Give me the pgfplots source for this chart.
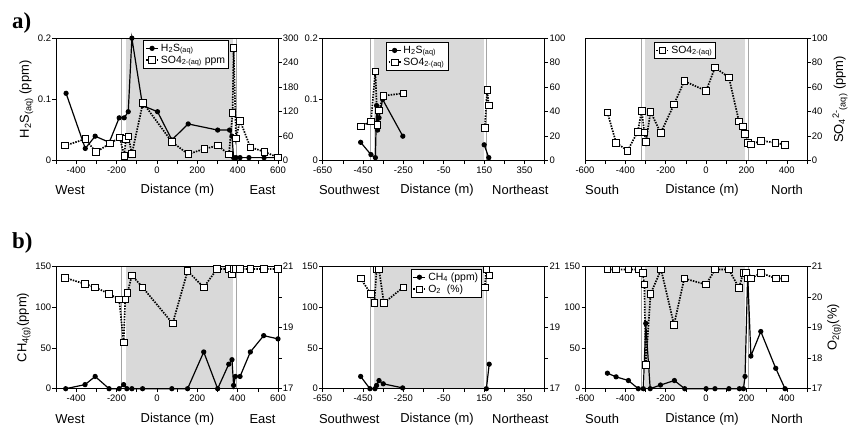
\documentclass[border=0pt]{standalone}
\usepackage{pgfplots}
\pgfplotsset{compat=1.18}
\usepackage{fontspec}
\setmainfont{Liberation Sans}
\newfontfamily\serifb{Liberation Serif}
\definecolor{shade}{RGB}{217,217,217}
\definecolor{vline}{RGB}{165,165,165}
\pgfplotsset{
  base/.style={scale only axis, width=222bp, height=122.5bp, ymin=0,
    anchor=south west, clip=false,
    tick align=outside, major tick length=3.5bp,
    tick style={black, line width=0.6pt},
    axis line style={line width=0.7pt},
    ticklabel style={font=\fontsize{9.5}{11}\selectfont},
    yticklabel style={inner sep=1.2bp},
    xticklabel style={inner sep=2bp},
    label style={font=\fontsize{13}{15}\selectfont},
    legend style={draw=black, line width=0.6pt, font=\fontsize{10.5}{12}\selectfont,
      inner sep=1.5pt, row sep=-1pt, legend cell align=left, anchor=north west},
    legend image code/.code={\draw[mark repeat=2,mark phase=2,##1] plot coordinates {(0bp,0bp) (6bp,0bp) (12bp,0bp)};},
  },
  lefta/.style={base, axis on top, xtick pos=bottom, ytick pos=left},
  righta/.style={base, axis x line=none, axis y line*=right, ylabel near ticks,
    ylabel style={font=\fontsize{13}{15}\selectfont}},
  h2s/.style={black, line width=1.2pt, mark=*, mark size=2pt, mark options={solid}},
  so4/.style={black, line width=1.7pt, dash pattern=on 1.5pt off 1.2pt, mark=square*, mark size=3.3pt, mark options={solid, fill=white, line width=0.8pt}},
  vl/.style={vline, line width=0.9pt, forget plot},
  sh/.style={draw=none, fill=shade, forget plot},
}
\newcommand{\xa}{xmin=-500, xmax=600, xtick={-500,-400,...,600}, xticklabels={,-400,,-200,,0,,200,,400,,600}}
\newcommand{\xb}{xmin=-650, xmax=450, xtick={-650,-550,...,450}, xticklabels={-650,,-450,,-250,,-50,,150,,350,}}
\newcommand{\xc}{xmin=-600, xmax=500, xtick={-600,-500,...,500}, xticklabels={-600,,-400,,-200,,0,,200,,400,}}
\begin{document}
\begin{tikzpicture}
\useasboundingbox (0bp,0bp) rectangle (848bp,427bp);
\node[anchor=base west, font=\serifb\bfseries\fontsize{23}{25}\selectfont, inner sep=0] at (12bp,398bp) {a)};
\node[anchor=base west, font=\serifb\bfseries\fontsize{23}{25}\selectfont, inner sep=0] at (12bp,178bp) {b)};

% ---------- a1 ----------
\begin{axis}[lefta, at={(56bp,266.3bp)}, \xa, ymax=0.2,
  ytick={0,0.1,0.2}, yticklabels={0,0.1,0.2},
  ylabel={H\textsubscript{2}S\textsubscript{(aq)} (ppm)}]
\addplot[sh] coordinates {(-155,0.2) (378,0.2)} \closedcycle;
\addplot[vl] coordinates {(-175,0) (-175,0.2)};
\addplot[vl] coordinates {(395,0) (395,0.2)};
\addplot[h2s] coordinates {(-450,0.11) (-355,0.02) (-306,0.04) (-236,0.03) (-187,0.07) (-162,0.07) (-142,0.08) (-124,0.2) (-71,0.09) (3,0.08) (74,0.034) (155,0.06) (301,0.05) (360,0.05) (372,0.04) (380,0.005) (392,0.005) (412,0.005) (456,0.005) (531,0.005) (600,0.005)};
\node[font=\fontsize{13}{15}\selectfont] at (rel axis cs:0.063,-0.24) {West};
\node[font=\fontsize{13}{15}\selectfont] at (rel axis cs:0.547,-0.24) {Distance (m)};
\node[font=\fontsize{13}{15}\selectfont] at (rel axis cs:0.93,-0.24) {East};
\end{axis}
\begin{axis}[righta, at={(56bp,266.3bp)}, \xa, ymax=300,
  ytick={0,60,...,300}, yticklabels={0,60,120,180,240,300},
  legend style={at={(0.394,0.984)}}]
\addlegendimage{h2s}\addlegendentry{H\textsubscript{2}S\textsubscript{(aq)}}
\addplot[so4] coordinates {(-455,37) (-355,53) (-302,21) (-233,42) (-184,57) (-162,12) (-154,53) (-142,60) (-124,17) (-69,142) (74,46) (155,16) (235,29) (303,37) (357,15) (375,117) (380,276) (392,55) (412,98) (463,33) (532,22) (600,8)};
\addlegendentry{SO4\textsubscript{2-(aq)} ppm}
\end{axis}

% ---------- a2 ----------
\begin{axis}[lefta, at={(322.7bp,266.3bp)}, \xb, ymax=0.2,
  ytick={0,0.1,0.2}, yticklabels={0,0.1,0.2}]
\addplot[sh] coordinates {(-394,0.2) (148,0.2)} \closedcycle;
\addplot[vl] coordinates {(-414,0) (-414,0.2)};
\addplot[vl] coordinates {(161,0) (161,0.2)};
\addplot[h2s] coordinates {(-462,0.03) (-411,0.01) (-389,0.005) (-383,0.09) (-378,0.05) (-371,0.07) (-353,0.1) (-253,0.04)};
\addplot[h2s] coordinates {(150,0.026) (173,0.005)};
\node[font=\fontsize{13}{15}\selectfont] at (rel axis cs:0.12,-0.24) {Southwest};
\node[font=\fontsize{13}{15}\selectfont] at (rel axis cs:0.515,-0.24) {Distance (m)};
\node[font=\fontsize{13}{15}\selectfont] at (rel axis cs:0.89,-0.24) {Northeast};
\end{axis}
\begin{axis}[righta, at={(322.7bp,266.3bp)}, \xb, ymax=100,
  ytick={0,20,...,100}, yticklabels={0,20,40,60,80,100},
  legend style={at={(0.285,0.967)}}]
\addlegendimage{h2s}\addlegendentry{H\textsubscript{2}S\textsubscript{(aq)}}
\addplot[so4] coordinates {(-462,28) (-411,32) (-389,73) (-379,29) (-371,41) (-350,53) (-251,55)};
\addlegendentry{SO4\textsubscript{2-(aq)}}
\addplot[so4, forget plot] coordinates {(153,27) (165,58) (173,45)};
\end{axis}

% ---------- a3 ----------
\begin{axis}[lefta, at={(585bp,266.3bp)}, \xc, ymax=1, ytick=\empty]
\addplot[sh] coordinates {(-303,1) (193,1)} \closedcycle;
\addplot[vl] coordinates {(-319,0) (-319,1)};
\addplot[vl] coordinates {(209,0) (209,1)};
\node[font=\fontsize{13}{15}\selectfont] at (rel axis cs:0.077,-0.24) {South};
\node[font=\fontsize{13}{15}\selectfont] at (rel axis cs:0.527,-0.24) {Distance (m)};
\node[font=\fontsize{13}{15}\selectfont] at (rel axis cs:0.91,-0.24) {North};
\end{axis}
\begin{axis}[righta, at={(585bp,266.3bp)}, \xc, ymax=100,
  ytick={0,20,...,100}, yticklabels={0,20,40,60,80,100},
  ylabel={SO\textsubscript{4}\textsuperscript{2-}\textsubscript{(aq)} (ppm)},
  legend style={at={(0.31,0.967)}}]
\addplot[so4] coordinates {(-489,39.4) (-446,14.7) (-389,8.2) (-339,23.6) (-319,40.8) (-306,23) (-298,15.5) (-275,40) (-225,22.6) (-159,46) (-108,65) (0,57) (44,76) (113,68) (163,32) (181,28) (193,21.7) (206,14.7) (222,13.3) (272,16.3) (343,14.7) (391,13)};
\addlegendentry{SO4\textsubscript{2-(aq)}}
\end{axis}

% ---------- b1 ----------
\begin{axis}[lefta, at={(56bp,38.3bp)}, \xa, ymax=150,
  ytick={0,50,100,150}, yticklabels={0,50,100,150},
  ylabel={CH\textsubscript{4(g)}(ppm)}]
\addplot[sh] coordinates {(-155,150) (378,150)} \closedcycle;
\addplot[vl] coordinates {(-175,0) (-175,150)};
\addplot[vl] coordinates {(395,0) (395,150)};
\addplot[h2s] coordinates {(-452,0) (-356,5) (-306,15) (-237,0) (-187,0) (-165,5) (-149,0) (-124,0) (-71,0) (74,0) (152,0) (232,45) (301,0) (356,30) (372,35.5) (380,4) (389,15) (412,15) (463,45) (529,65) (600,61)};
\node[font=\fontsize{13}{15}\selectfont] at (rel axis cs:0.063,-0.25) {West};
\node[font=\fontsize{13}{15}\selectfont] at (rel axis cs:0.547,-0.25) {Distance (m)};
\node[font=\fontsize{13}{15}\selectfont] at (rel axis cs:0.93,-0.25) {East};
\end{axis}
\begin{axis}[righta, at={(56bp,38.3bp)}, \xa, ymin=17, ymax=21,
  ytick={17,18,19,20,21}, yticklabels={17,,19,,21}]
\addplot[so4] coordinates {(-455,20.62) (-356,20.42) (-306,20.31) (-237,20.1) (-187,19.91) (-165,18.51) (-157,19.91) (-146,20.13) (-124,20.7) (-71,20.31) (78,19.13) (152,20.84) (232,20.31) (298,20.91) (356,20.91) (371,20.73) (380,20.91) (392,20.91) (412,20.91) (463,20.91) (529,20.91) (600,20.91)};
\end{axis}

% ---------- b2 ----------
\begin{axis}[lefta, at={(322.7bp,38.3bp)}, \xb, ymax=150,
  ytick={0,50,100,150}, yticklabels={0,50,100,150}]
\addplot[sh] coordinates {(-394,150) (148,150)} \closedcycle;
\addplot[vl] coordinates {(-414,0) (-414,150)};
\addplot[vl] coordinates {(161,0) (161,150)};
\addplot[h2s] coordinates {(-462,15) (-416,0) (-391,0) (-383,4) (-371,10) (-350,6) (-254,1)};
\addplot[h2s] coordinates {(161,0) (175,30)};
\node[font=\fontsize{13}{15}\selectfont] at (rel axis cs:0.12,-0.25) {Southwest};
\node[font=\fontsize{13}{15}\selectfont] at (rel axis cs:0.515,-0.25) {Distance (m)};
\node[font=\fontsize{13}{15}\selectfont] at (rel axis cs:0.89,-0.25) {Northeast};
\end{axis}
\begin{axis}[righta, at={(322.7bp,38.3bp)}, \xb, ymin=17, ymax=21,
  ytick={17,18,19,20,21}, yticklabels={17,,19,,21},
  legend style={at={(0.397,0.978)}}]
\addlegendimage{h2s}\addlegendentry{CH\textsubscript{4} (ppm)}
\addplot[so4] coordinates {(-462,20.6) (-412,20.1) (-394,19.8) (-383,20.9) (-371,20.9) (-347,19.8) (-251,20.31)};
\addlegendentry{O\textsubscript{2}\ \ (\%)}
\addplot[so4, forget plot] coordinates {(153,20.31) (161,20.9) (175,20.7)};
\end{axis}

% ---------- b3 ----------
\begin{axis}[lefta, at={(585bp,38.3bp)}, \xc, ymax=150,
  ytick={0,50,100,150}, yticklabels={0,50,100,150}]
\addplot[sh] coordinates {(-303,150) (193,150)} \closedcycle;
\addplot[vl] coordinates {(-319,0) (-319,150)};
\addplot[vl] coordinates {(209,0) (209,150)};
\addplot[h2s] coordinates {(-489,19) (-446,14.5) (-385,10) (-336,0) (-311,0) (-299,80) (-277,0) (-226,4.5) (-157,10) (-106,0) (0,0) (44,0) (113,0) (165,0) (185,0) (193,15) (206,140) (222,40) (271,70) (345,25) (391,0)};
\node[font=\fontsize{13}{15}\selectfont] at (rel axis cs:0.077,-0.25) {South};
\node[font=\fontsize{13}{15}\selectfont] at (rel axis cs:0.527,-0.25) {Distance (m)};
\node[font=\fontsize{13}{15}\selectfont] at (rel axis cs:0.91,-0.25) {North};
\end{axis}
\begin{axis}[righta, at={(585bp,38.3bp)}, \xc, ymin=17, ymax=21,
  ytick={17,18,19,20,21}, yticklabels={17,18,19,20,21},
  ylabel={O\textsubscript{2(g)}(\%)}]
\addplot[so4] coordinates {(-489,20.89) (-446,20.89) (-385,20.89) (-336,20.89) (-314,20.78) (-306,20.4) (-299,17.78) (-275,20.1) (-223,20.89) (-159,19.09) (-108,20.6) (0,20.4) (44,20.89) (113,20.89) (163,20.29) (184,20.78) (196,20.78) (206,20.6) (222,20.6) (272,20.78) (345,20.6) (391,20.6)};
\end{axis}
\end{tikzpicture}
\end{document}
